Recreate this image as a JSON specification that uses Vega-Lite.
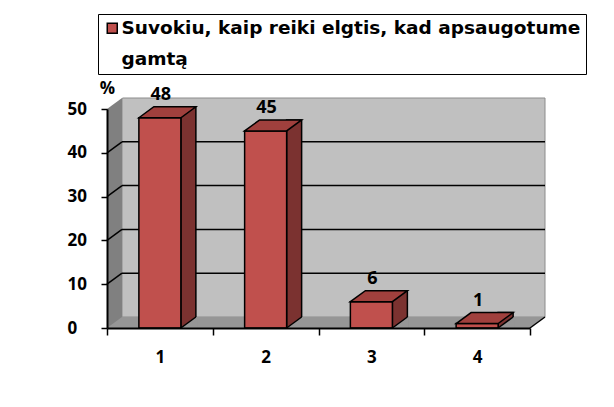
{
  "$schema": "https://vega.github.io/schema/vega-lite/v6.json",
  "width": 423,
  "height": 219,
  "autosize": {"type": "none"},
  "padding": {"left": 107, "top": 109, "right": 84, "bottom": 79},
  "background": "white",
  "config": {
    "view": {"stroke": null},
    "font": "Open Sans",
    "style": {"guide-label": {"lineHeight": 31}}
  },
  "datasets": {
    "bars": [
      {"cat": "1", "v": 48},
      {"cat": "2", "v": 45},
      {"cat": "3", "v": 6},
      {"cat": "4", "v": 1}
    ],
    "grid": [{"g": 10}, {"g": 20}, {"g": 30}, {"g": 40}],
    "one": [{}]
  },
  "resolve": {"scale": {"x": "independent"}},
  "layer": [
    {
      "layer": [
        {
          "data": {"name": "one"},
          "mark": {"type": "rect", "fill": "#c0c0c0", "stroke": "#8c8c8c", "strokeWidth": 1, "xOffset": 15, "x2Offset": 15, "yOffset": -11, "y2Offset": -11},
          "encoding": {
            "x": {"datum": 0, "type": "quantitative", "scale": {"domain": [0, 1], "nice": false, "zero": false}, "axis": null},
            "x2": {"datum": 1},
            "y": {"datum": 50, "type": "quantitative"},
            "y2": {"datum": 0}
          }
        },
        {
          "data": {"name": "grid"},
          "mark": {"type": "rule", "color": "black", "strokeWidth": 1.5, "xOffset": 15, "x2Offset": 15, "yOffset": -11, "y2Offset": -11},
          "encoding": {
            "x": {"datum": 0, "type": "quantitative", "axis": null},
            "x2": {"datum": 1},
            "y": {"field": "g", "type": "quantitative"}
          }
        },
        {
          "data": {"name": "one"},
          "mark": {"type": "rect", "fill": "#969696", "x2Offset": 15, "yOffset": -11},
          "encoding": {
            "x": {"datum": 0, "type": "quantitative", "axis": null},
            "x2": {"datum": 1},
            "y": {"datum": 0, "type": "quantitative"},
            "y2": {"datum": 0}
          }
        },
        {
          "data": {"name": "one"},
          "mark": {"type": "rect", "fill": "#808080", "x2Offset": 15, "yOffset": -11},
          "encoding": {
            "x": {"datum": 0, "type": "quantitative", "axis": null},
            "x2": {"datum": 0},
            "y": {"datum": 50, "type": "quantitative"},
            "y2": {"datum": 0}
          }
        },
        {
          "data": {"name": "one"},
          "mark": {"type": "point", "shape": "M0,0 L15,-11 L15,0 Z", "size": 4, "filled": true, "fill": "#969696", "opacity": 1, "strokeWidth": 0},
          "encoding": {
            "x": {"datum": 0, "type": "quantitative", "axis": null},
            "y": {"datum": 0, "type": "quantitative"}
          }
        },
        {
          "data": {"name": "one"},
          "mark": {"type": "point", "shape": "M0,0 L-1,-12 L16,-12 L15,-11 Z", "size": 4, "filled": true, "fill": "white", "opacity": 1, "strokeWidth": 0},
          "encoding": {
            "x": {"datum": 0, "type": "quantitative", "axis": null},
            "y": {"datum": 50, "type": "quantitative"}
          }
        },
        {
          "data": {"name": "one"},
          "mark": {"type": "point", "shape": "M0,0 L15,-11 L17,-11 L17,2 L0,2 Z", "size": 4, "filled": true, "fill": "white", "opacity": 1, "strokeWidth": 0},
          "encoding": {
            "x": {"datum": 1, "type": "quantitative", "axis": null},
            "y": {"datum": 0, "type": "quantitative"}
          }
        },
        {
          "data": {"name": "grid"},
          "mark": {"type": "point", "shape": "M0,0 L15,-11", "size": 4, "filled": false, "stroke": "black", "strokeWidth": 1.5, "opacity": 1},
          "encoding": {
            "x": {"datum": 0, "type": "quantitative", "axis": null},
            "y": {"field": "g", "type": "quantitative"}
          }
        },
        {
          "data": {"name": "one"},
          "mark": {"type": "point", "shape": "M0,0 L15,-11", "size": 4, "filled": false, "stroke": "black", "strokeWidth": 1.5, "opacity": 1},
          "encoding": {
            "x": {"datum": 1, "type": "quantitative", "axis": null},
            "y": {"datum": 0, "type": "quantitative"}
          }
        }
      ]
    },
    {
      "data": {"name": "bars"},
      "encoding": {
        "x": {
          "field": "cat",
          "type": "nominal",
          "scale": {"paddingInner": 0, "paddingOuter": 0},
          "axis": {
            "title": null,
            "zindex": 1,
            "labelAngle": 0,
            "domainColor": "black",
            "domainWidth": 2,
            "tickColor": "black",
            "tickWidth": 1.5,
            "tickSize": 7,
            "tickBand": "extent",
            "labelFont": "Open Sans",
            "labelFontSize": 17,
            "labelFontWeight": "bold",
            "labelColor": "black",
            "labelPadding": 14
          }
        },
        "y": {
          "field": "v",
          "type": "quantitative",
          "scale": {"domain": [0, 50], "nice": false},
          "axis": {
            "title": "%",
            "zindex": 1,
            "titleAngle": 0,
            "titleX": 0,
            "titleY": -21,
            "titleAlign": "center",
            "titleBaseline": "middle",
            "titleFont": "Open Sans",
            "titleFontSize": 17,
            "titleFontWeight": "bold",
            "titleColor": "black",
            "values": [0, 10, 20, 30, 40, 50],
            "grid": false,
            "domainColor": "black",
            "domainWidth": 2,
            "tickColor": "black",
            "tickWidth": 1.5,
            "tickSize": 6,
            "labelAlign": "left",
            "labelPadding": 34,
            "labelFont": "Open Sans",
            "labelFontSize": 17,
            "labelFontWeight": "bold",
            "labelColor": "black"
          }
        }
      },
      "layer": [
        {
          "mark": {"type": "bar", "width": 15, "xOffset": 28.5, "yOffset": -11, "fill": "#7b3230", "stroke": "black", "strokeWidth": 1.5},
          "encoding": {"y2": {"datum": 0}}
        },
        {
          "mark": {"type": "point", "shape": "M21,0 L36,-11 L37.5,-11 L37.5,1 L21,1 Z", "size": 4, "filled": true, "fill": "#969696", "opacity": 1, "strokeWidth": 0},
          "encoding": {"y": {"datum": 0, "type": "quantitative"}}
        },
        {
          "mark": {"type": "point", "shape": "M21,0 L36,-11", "size": 4, "filled": false, "stroke": "black", "strokeWidth": 1.5, "opacity": 1},
          "encoding": {"y": {"datum": 0, "type": "quantitative"}}
        },
        {
          "mark": {"type": "bar", "width": 42, "stroke": "black", "strokeWidth": 1.5},
          "encoding": {
            "y2": {"datum": 0},
            "color": {
              "datum": "Suvokiu, kaip reiki elgtis, kad apsaugotume gamtą",
              "type": "nominal",
              "scale": {"range": ["#c0504d"]},
              "legend": {
                "orient": "none",
                "legendX": -9,
                "legendY": -95,
                "title": null,
                "padding": 5,
                "strokeColor": "black",
                "fillColor": "white",
                "symbolType": "square",
                "symbolSize": 100,
                "symbolStrokeColor": "black",
                "symbolStrokeWidth": 1.5,
                "symbolOpacity": 1,
                "labelFont": "DejaVu Sans",
                "labelFontSize": 18.5,
                "labelFontWeight": "bold",
                "labelColor": "black",
                "labelOffset": 0,
                "labelLimit": 700,
                "labelBaseline": "middle",
                "labelExpr": "['Suvokiu, kaip reiki elgtis, kad apsaugotume', 'gamtą']"
              }
            }
          }
        },
        {
          "mark": {"type": "point", "shape": "M-21,0 L-6,-11 L36,-11 L21,0 Z", "size": 4, "filled": true, "fill": "#a0403d", "stroke": "black", "strokeWidth": 1.5, "opacity": 1}
        },
        {
          "mark": {"type": "text", "dy": -23, "xOffset": 1, "font": "Open Sans", "fontSize": 18, "fontWeight": "bold", "color": "black", "baseline": "middle"},
          "encoding": {"text": {"field": "v", "type": "quantitative"}}
        }
      ]
    }
  ]
}
